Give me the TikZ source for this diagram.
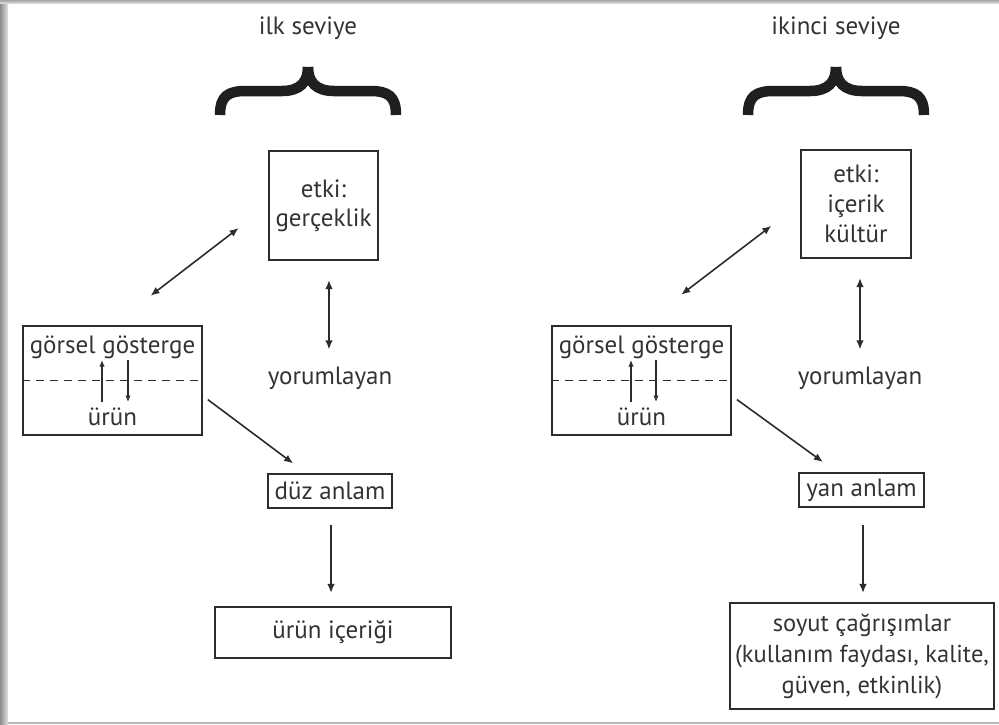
\documentclass[tikz,border=0pt]{standalone}
\usepackage{fontspec}
\setmainfont{PT Sans}
\usetikzlibrary{arrows.meta,calc}
\definecolor{linec}{HTML}{2C2C2C}
\definecolor{txtc}{HTML}{333333}
\begin{document}
\begin{tikzpicture}[x=1pt,y=-1pt,
  box/.style={draw=linec, line width=2.1pt, inner sep=0pt, text=txtc, align=center, font=\fontsize{25}{29}\selectfont},
  lbl/.style={text=txtc, inner sep=0pt, font=\fontsize{25}{29}\selectfont},
  arr/.style={draw=linec, line width=1.6pt, -{Latex[length=9pt,width=7.5pt]}},
  darr/.style={draw=linec, line width=1.6pt, {Latex[length=9pt,width=7.5pt]}-{Latex[length=9pt,width=7.5pt]}},
  sarr/.style={draw=linec, line width=1.4pt, -{Latex[length=6.5pt,width=5.5pt]}},
  brace/.style={draw=black!88, line width=10.5pt, line cap=butt},
  dline/.style={draw=linec, line width=1.6pt, dash pattern=on 8pt off 6pt}
]
\useasboundingbox (0,0) rectangle (999,724);
% frame shadow
\shade[left color=black!45, right color=black!10] (0,0) rectangle (8,724);
\shade[top color=black!35, bottom color=black!12] (0,0) rectangle (999,3.5);
\fill[black!28] (8,721.5) rectangle (999,724);

% ---------- left: ilk seviye ----------
\node[lbl] (t1) at (308,28) {ilk seviye};
\begin{scope}[shift={(308,67)}]
\draw[brace] (-88,48) .. controls (-88,29) and (-80,24) .. (-62,24) -- (-26,24) .. controls (-8,24) and (0,15) .. (0,0);
\draw[brace] (88,48) .. controls (88,29) and (80,24) .. (62,24) -- (26,24) .. controls (8,24) and (0,15) .. (0,0);
\end{scope}

\node[box, minimum width=109pt, minimum height=109pt] (e1) at (323.5,205.5) {etki:\\gerçeklik};
\node[box, minimum width=179pt, minimum height=109pt] (g1) at (112.5,380.5) {};
\node[lbl] (g1t) at (112.5,347) {görsel gösterge};
\node[lbl] (g1b) at (112.5,417) {ürün};
\draw[dline] (g1.west) -- (g1.east);
\coordinate (g1ua) at (102,402);
\coordinate (g1ub) at (102,360);
\coordinate (g1da) at (128,360);
\coordinate (g1db) at (128,402);
\draw[sarr] (g1ua) -- (g1ub);
\draw[sarr] (g1da) -- (g1db);
\node[lbl] (y1) at (330,378) {yorumlayan};
\node[box, minimum width=124pt, minimum height=34pt] (d1) at (330,491) {düz anlam};
\node[box, minimum width=236pt, minimum height=51pt] (i1) at (333,632.5) {ürün içeriği};

\draw[darr, shorten <=48pt, shorten >=37pt] (g1.north) -- (e1.west);
\draw[darr, shorten <=17pt, shorten >=19pt] ([xshift=-1pt]y1.north) -- ([xshift=-1pt]y1.north |- e1.south);
\draw[arr, shorten <=6pt, shorten >=16pt] ([yshift=-15.5pt]g1.east) -- (d1);
\draw[arr, shorten <=16pt, shorten >=13pt] ([xshift=1pt]d1.south) -- ([xshift=1pt]d1.south |- i1.north);

% ---------- right: ikinci seviye ----------
\node[lbl] (t2) at (836,28) {ikinci seviye};
\begin{scope}[shift={(836,67)}]
\draw[brace] (-88,48) .. controls (-88,29) and (-80,24) .. (-62,24) -- (-26,24) .. controls (-8,24) and (0,15) .. (0,0);
\draw[brace] (88,48) .. controls (88,29) and (80,24) .. (62,24) -- (26,24) .. controls (8,24) and (0,15) .. (0,0);
\end{scope}

\node[box, minimum width=110pt, minimum height=108pt, font=\fontsize{25}{30}\selectfont] (e2) at (856,204) {etki:\\içerik\\kültür};
\node[box, minimum width=179pt, minimum height=109pt] (g2) at (641.5,380.5) {};
\node[lbl] (g2t) at (641.5,347) {görsel gösterge};
\node[lbl] (g2b) at (641.5,417) {ürün};
\draw[dline] (g2.west) -- (g2.east);
\coordinate (g2ua) at (631,402);
\coordinate (g2ub) at (631,360);
\coordinate (g2da) at (656,360);
\coordinate (g2db) at (656,402);
\draw[sarr] (g2ua) -- (g2ub);
\draw[sarr] (g2da) -- (g2db);
\node[lbl] (y2) at (860,378) {yorumlayan};
\node[box, minimum width=125pt, minimum height=34pt] (a2) at (861.5,490) {yan anlam};
\node[box, minimum width=264pt, minimum height=106pt, font=\fontsize{24.5}{31}\selectfont] (s2) at (862,656) {soyut çağrışımlar\\(kullanım faydası, kalite,\\güven, etkinlik)};

\draw[darr, shorten <=50pt, shorten >=36pt] (g2.north) -- (e2.west);
\draw[darr, shorten <=17pt, shorten >=19pt] (y2.north) -- (y2.north |- e2.south);
\draw[arr, shorten <=6pt, shorten >=17pt] ([yshift=-15.5pt]g2.east) -- (a2);
\draw[arr, shorten <=17pt, shorten >=9pt] ([xshift=1.5pt]a2.south) -- ([xshift=1.5pt]a2.south |- s2.north);
\end{tikzpicture}
\end{document}
